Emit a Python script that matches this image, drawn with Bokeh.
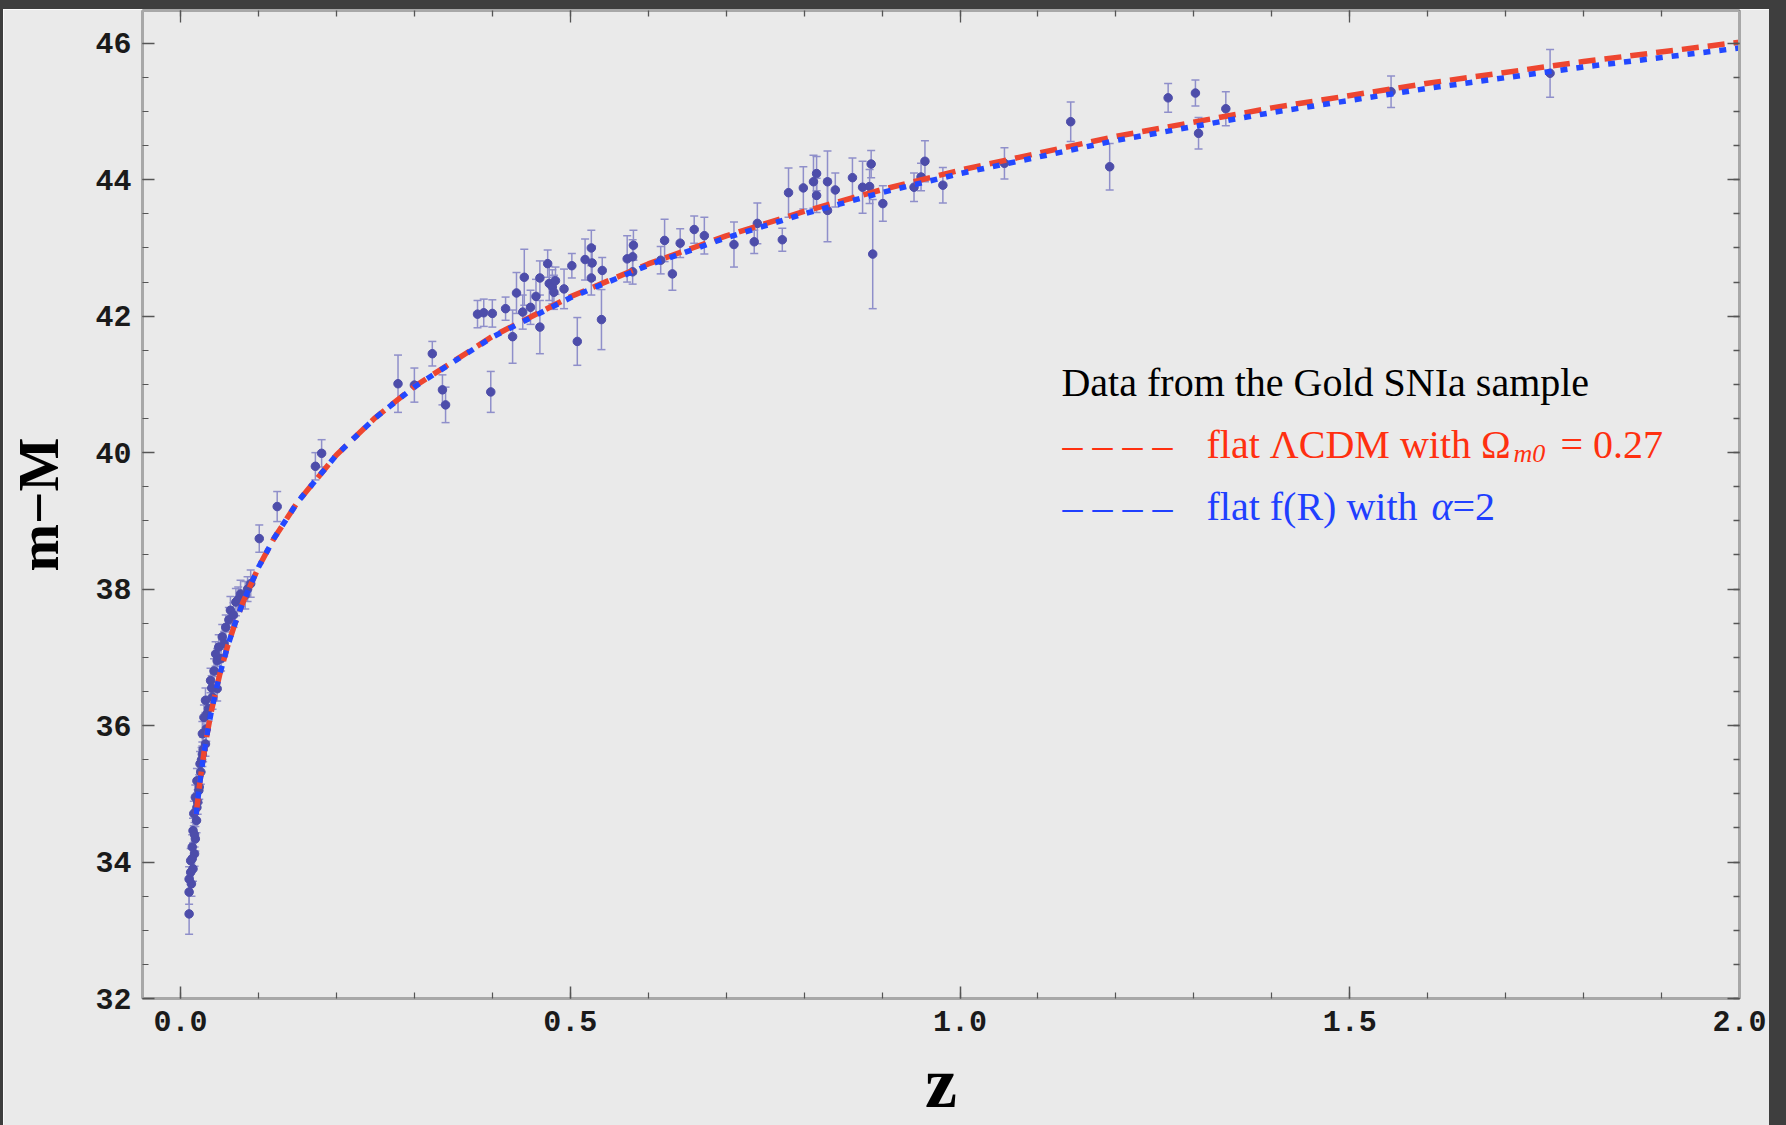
from bokeh.plotting import figure
from bokeh.models import (ColumnDataSource, Whisker, TeeHead, LinearAxis, Range1d, Label,
                          Div, SingleIntervalTicker, FixedTicker, NumeralTickFormatter)
from bokeh.layouts import row, column
from bokeh.embed import file_html
from bokeh.resources import INLINE

# ---------------- data ----------------
z_low = [0.011, 0.011, 0.014, 0.011, 0.016, 0.013, 0.018, 0.015, 0.019, 0.016, 0.0205, 0.017,
         0.021, 0.019, 0.0235, 0.021, 0.026, 0.025, 0.028, 0.032, 0.028, 0.034, 0.030, 0.032,
         0.041, 0.047, 0.0385, 0.045, 0.047, 0.049, 0.0535, 0.058, 0.064, 0.071, 0.077, 0.083,
         0.090, 0.101, 0.124, 0.173, 0.181,
         0.013, 0.015, 0.018, 0.022, 0.024, 0.027, 0.029, 0.033, 0.036, 0.040, 0.043, 0.052,
         0.056, 0.062, 0.068, 0.074, 0.086]
mu_low = [33.24, 33.56, 33.68, 33.75, 33.90, 34.02, 34.12, 34.22, 34.34, 34.46, 34.61, 34.71,
          34.80, 34.95, 35.05, 35.19, 35.32, 35.44, 35.58, 35.73, 35.88, 36.17, 36.12, 36.37,
          36.42, 36.54, 36.66, 37.05, 36.95, 37.15, 37.30, 37.44, 37.69, 37.81, 37.93, 37.91,
          38.08, 38.74, 39.21, 39.80, 39.99,
          33.85, 34.05, 34.40, 34.88, 35.10, 35.50, 35.65, 35.95, 36.25, 36.55, 36.80, 36.98,
          37.20, 37.55, 37.62, 37.85, 38.00]
err_low = [0.30, 0.18, 0.18, 0.18, 0.18, 0.18, 0.18, 0.18, 0.18, 0.18, 0.18, 0.18,
           0.18, 0.18, 0.18, 0.18, 0.18, 0.18, 0.18, 0.18, 0.18, 0.18, 0.18, 0.18,
           0.18, 0.18, 0.18, 0.18, 0.18, 0.18, 0.18, 0.18, 0.20, 0.20, 0.20, 0.20,
           0.20, 0.20, 0.22, 0.20, 0.20,
           0.18, 0.18, 0.18, 0.18, 0.18, 0.18, 0.18, 0.18, 0.18, 0.18, 0.18, 0.18,
           0.18, 0.18, 0.18, 0.18, 0.18]

z_high = [0.279, 0.300, 0.323, 0.336, 0.340, 0.398, 0.381, 0.389, 0.400, 0.417, 0.426, 0.431,
          0.441, 0.439, 0.449, 0.456, 0.461, 0.461, 0.471, 0.473, 0.477, 0.481, 0.479, 0.492,
          0.502, 0.509, 0.519, 0.527, 0.528, 0.527, 0.541, 0.540, 0.573, 0.580, 0.581, 0.580,
          0.616, 0.621, 0.631, 0.641, 0.659, 0.672, 0.710, 0.736, 0.740, 0.772, 0.780, 0.799,
          0.812, 0.816, 0.816, 0.830, 0.830, 0.840, 0.862, 0.875, 0.886, 0.884, 0.888, 0.901,
          0.941, 0.950, 0.955, 0.978, 1.057, 1.142, 1.192, 1.267, 1.302, 1.306, 1.341, 1.553,
          1.757]
mu_high = [41.01, 40.99, 41.45, 40.92, 40.70, 40.89, 42.03, 42.05, 42.04, 42.11, 41.70, 42.34,
           42.57, 42.06, 42.13, 42.29, 41.84, 42.56, 42.77, 42.48, 42.43, 42.52, 42.35, 42.40,
           42.74, 41.63, 42.83, 43.00, 42.78, 42.56, 42.67, 41.95, 42.84, 42.87, 43.04, 42.65,
           42.82, 43.11, 42.62, 43.07, 43.27, 43.18, 43.05, 43.09, 43.36, 43.12, 43.81, 43.88,
           43.97, 44.09, 43.77, 43.97, 43.55, 43.85, 44.03, 43.89, 44.23, 43.90, 42.91, 43.65,
           43.89, 44.04, 44.27, 43.92, 44.24, 44.85, 44.19, 45.20, 45.27, 44.68, 45.04, 45.29,
           45.56]
err_high = [0.42, 0.25, 0.18, 0.22, 0.26, 0.30, 0.20, 0.20, 0.20, 0.17, 0.39, 0.30,
            0.41, 0.25, 0.25, 0.25, 0.39, 0.25, 0.20, 0.25, 0.25, 0.20, 0.25, 0.29,
            0.18, 0.35, 0.30, 0.26, 0.25, 0.25, 0.19, 0.44, 0.34, 0.25, 0.22, 0.18,
            0.20, 0.31, 0.24, 0.21, 0.20, 0.27, 0.33, 0.17, 0.30, 0.17, 0.36, 0.31,
            0.39, 0.25, 0.25, 0.45, 0.46, 0.25, 0.29, 0.38, 0.20, 0.25, 0.80, 0.26,
            0.21, 0.20, 0.30, 0.26, 0.23, 0.29, 0.34, 0.21, 0.19, 0.23, 0.25, 0.23,
            0.35]

z_model = [0.02, 0.025, 0.03, 0.035, 0.04, 0.05, 0.06, 0.07, 0.08, 0.1, 0.12, 0.15, 0.2, 0.25,
           0.3, 0.4, 0.5, 0.6, 0.7, 0.8, 0.9, 1.0, 1.2, 1.4, 1.6, 1.8, 2.0]
mu_lcdm = [34.698, 35.191, 35.595, 35.938, 36.236, 36.737, 37.149, 37.500, 37.805, 38.320,
           38.746, 39.273, 39.966, 40.514, 40.970, 41.703, 42.284, 42.766, 43.177, 43.536,
           43.855, 44.140, 44.635, 45.053, 45.414, 45.732, 46.015]
mu_fr = [34.698, 35.191, 35.595, 35.938, 36.236, 36.737, 37.149, 37.500, 37.805, 38.320,
         38.746, 39.273, 39.966, 40.511, 40.965, 41.693, 42.269, 42.746, 43.149, 43.501,
         43.813, 44.090, 44.575, 44.985, 45.339, 45.652, 45.930]

z_data = z_low + z_high
mu_data = mu_low + mu_high
err_data = err_low + err_high

# tick positions for the mirrored (label-free) top and right frame ticks
x_major_ticks = [0.0, 0.5, 1.0, 1.5, 2.0]
x_minor_ticks = [i / 10 for i in range(0, 21)]
y_major_ticks = [32, 34, 36, 38, 40, 42, 44, 46]
y_minor_ticks = [32 + i / 2 for i in range(0, 30)]

# ---------------- figure ----------------
X0, X1 = -0.0488, 2.0
Y0, Y1 = 32.0, 46.48
BG = "#EAEAEA"
DARK = "#3e3e3e"
AXIS_GRAY = "#a8a8a8"
TICK = "#555555"

p = figure(width=1766, height=1116, x_range=Range1d(X0, X1), y_range=Range1d(Y0, Y1),
           output_backend="svg", toolbar_location=None)
p.min_border_left = 139
p.min_border_right = 30
p.min_border_top = 1
p.min_border_bottom = 127
p.background_fill_color = BG
p.border_fill_color = BG
p.outline_line_color = AXIS_GRAY
p.outline_line_width = 2
p.grid.visible = False


def style_ticks(ax):
    ax.axis_line_color = AXIS_GRAY
    ax.axis_line_width = 3
    ax.major_tick_line_color = TICK
    ax.major_tick_line_width = 1.5
    ax.minor_tick_line_color = TICK
    ax.minor_tick_line_width = 1.2
    ax.major_tick_in = 12
    ax.major_tick_out = 0
    ax.minor_tick_in = 6
    ax.minor_tick_out = 0


xa = p.xaxis[0]
ya = p.yaxis[0]
xa.ticker = SingleIntervalTicker(interval=0.5, num_minor_ticks=5)
ya.ticker = SingleIntervalTicker(interval=2, num_minor_ticks=4)
for ax in (xa, ya):
    style_ticks(ax)
    ax.major_label_text_font = "Liberation Mono"
    ax.major_label_text_font_size = "30px"
    ax.major_label_text_font_style = "bold"
    ax.major_label_text_color = "#1a1a1a"
xa.formatter = NumeralTickFormatter(format="0.0")
ya.formatter = NumeralTickFormatter(format="0")
xa.major_label_standoff = 12
ya.major_label_standoff = 11

xa.axis_label = "z"
xa.axis_label_text_font = "Liberation Serif"
xa.axis_label_text_font_style = "bold"
xa.axis_label_text_font_size = "72px"
xa.axis_label_text_color = "black"
xa.axis_label_standoff = 9

ya.axis_label = "m\u2212M"
ya.axis_label_text_font = "Liberation Serif"
ya.axis_label_text_font_style = "bold"
ya.axis_label_text_font_size = "57px"
ya.axis_label_text_color = "black"
ya.axis_label_standoff = 22


def mirror_axis(minor_positions, tick_len, with_line):
    ax = LinearAxis(ticker=FixedTicker(ticks=[], minor_ticks=minor_positions))
    ax.major_label_standoff = 0
    ax.major_tick_in = 0
    ax.major_tick_out = 0
    ax.minor_tick_in = tick_len
    ax.minor_tick_out = 0
    ax.minor_tick_line_color = TICK
    ax.minor_tick_line_width = 1.3
    ax.axis_line_color = AXIS_GRAY if with_line else None
    ax.axis_line_width = 3
    return ax


p.add_layout(mirror_axis(x_minor_ticks, 6, True), "above")
p.add_layout(mirror_axis(x_major_ticks, 12, False), "above")
p.add_layout(mirror_axis(y_minor_ticks, 6, True), "right")
p.add_layout(mirror_axis(y_major_ticks, 12, False), "right")

# ---------------- data points with error bars ----------------
src = ColumnDataSource(dict(
    z=z_data, mu=mu_data,
    lo=[m - e for m, e in zip(mu_data, err_data)],
    hi=[m + e for m, e in zip(mu_data, err_data)],
))
ERR = "#8f8fca"
w = Whisker(source=src, base="z", upper="hi", lower="lo", dimension="height",
            line_color=ERR, line_width=1.5,
            upper_head=TeeHead(size=8, line_color=ERR, line_width=1.5),
            lower_head=TeeHead(size=8, line_color=ERR, line_width=1.5))
p.add_layout(w)
p.scatter("z", "mu", source=src, size=8.5, color="#4d4daa", line_color="#4d4daa")

# ---------------- model curves ----------------
p.line(z_model, mu_lcdm, line_color="#ee4630", line_width=5.5, line_dash="17 9")
p.line(z_model, mu_fr, line_color="#2348ff", line_width=5.5, line_dash="7 9")

# ---------------- legend texts placed by window pixel ----------------
def dx(px):
    return X0 + (px - 142) / 779.5


def dy(py):
    return Y1 - (py - 10) / 68.23


RED = "#ff3010"
BLUE = "#1f3fff"
FONT = "Liberation Serif"


def lab(text, px, py, color, size="40px", style="normal", align="left"):
    p.add_layout(Label(x=dx(px), y=dy(py), text=text, text_font=FONT, text_font_size=size,
                       text_color=color, text_font_style=style, text_baseline="alphabetic",
                       text_align=align))


lab("Data from the Gold SNIa sample", 1061, 382, "black")
lab("\u2013 \u2013 \u2013 \u2013", 1062, 444, RED)
lab("flat \u039bCDM with \u03a9", 1206, 444, RED)
lab("m0", 1513, 453, RED, size="26px", style="italic")
lab("= 0.27", 1560, 444, RED)
lab("\u2013 \u2013 \u2013 \u2013", 1062, 506, BLUE)
lab("flat f(R) with", 1206, 506, BLUE)
lab("\u03b1", 1431, 506, BLUE, style="italic")
lab("=2", 1452, 506, BLUE)

# ---------------- window frame ----------------
left = Div(width=3, height=1125, margin=0, styles={"background-color": DARK})
topbar = Div(width=1766, height=9, margin=0, styles={"background-color": DARK})
right = Div(width=17, height=1125, margin=0, styles={"background-color": DARK})
layout = row(left, column(topbar, p, spacing=0), right, spacing=0)

open("out.html", "w").write(file_html(layout, INLINE))
